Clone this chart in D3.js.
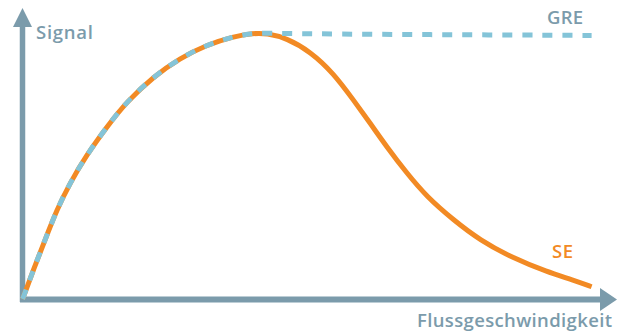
<!DOCTYPE html>
<html><head><meta charset="utf-8">
<script src="https://cdn.jsdelivr.net/npm/d3@7"></script>
<style>html,body{margin:0;padding:0;background:#fff;}svg{display:block;}</style>
</head><body>
<script>
// Data (flow velocity 0..100, signal 0..100)
const flowSE = [0,0.43,1.85,3.86,5.87,8.15,11.0,14.5,17.9,22.5,27.0,31.6,36.2,39.6,41.9,45.4,49.4,53.4,56.8,59.7,62.5,66.0,69.4,74.0,78.5,84.3,90.0,94.6,97.7];
const signalSE = [0,2.2,10.4,21.2,32.0,41.7,51.8,62.0,71.0,80.0,86.6,91.4,94.4,95.6,95.6,93.8,89.0,81.2,71.6,63.2,54.8,45.2,36.8,28.4,21.2,14.6,9.8,6.8,4.4];
const flowGRE = [0,0.43,1.85,3.86,5.87,8.15,11.0,14.5,17.9,22.5,27.0,31.6,36.2,39.6,41.9,50,60,70,80,90,97.7];
const signalGRE = [0,2.2,10.4,21.2,32.0,41.7,51.8,62.0,71.0,80.0,86.6,91.4,94.4,95.6,95.6,95.4,95.2,95.1,95.0,94.9,94.8];
const labels = {y:"Signal", x:"Flussgeschwindigkeit", se:"SE", gre:"GRE"};

const W=620,H=332;
const axisColor="#7b9bab", orange="#f28a24", blue="#84c4d8";
const svg=d3.select("body").append("svg").attr("width",W).attr("height",H);
const x=d3.scaleLinear().domain([0,100]).range([22.5,605]);
const y=d3.scaleLinear().domain([0,100]).range([299,21]);

// axes
svg.append("line").attr("x1",22.5).attr("x2",22.5).attr("y1",302).attr("y2",24)
  .attr("stroke",axisColor).attr("stroke-width",5.5);
svg.append("path").attr("d","M22.5,8 L32,27 L13,27 Z").attr("fill",axisColor);
svg.append("line").attr("x1",20).attr("x2",602).attr("y1",299.5).attr("y2",299.5)
  .attr("stroke",axisColor).attr("stroke-width",6);
svg.append("path").attr("d","M617,299.5 L600,288 L600,311 Z").attr("fill",axisColor);

const line=d3.line().x(d=>x(d[0])).y(d=>y(d[1])).curve(d3.curveBasis);
svg.append("path").datum(flowSE.map((f,i)=>[f,signalSE[i]]))
  .attr("d",line).attr("fill","none").attr("stroke",orange).attr("stroke-width",5);
svg.append("path").datum(flowGRE.map((f,i)=>[f,signalGRE[i]]))
  .attr("d",line).attr("fill","none").attr("stroke",blue).attr("stroke-width",5).attr("stroke-dasharray","10,10");

const font="'Open Sans', sans-serif";
function label(t,xp,yp,len,col){
  svg.append("text").attr("x",xp).attr("y",yp).text(t)
    .attr("font-family",font).attr("font-weight",600).attr("font-size",18.5)
    .attr("fill",col).attr("textLength",len).attr("lengthAdjust","spacing");
}
label(labels.y,36,38.5,57,axisColor);
label(labels.x,417,327,195,axisColor);
label(labels.gre,547,23.5,36,axisColor);
label(labels.se,552,258,21,orange);
</script>
</body></html>
